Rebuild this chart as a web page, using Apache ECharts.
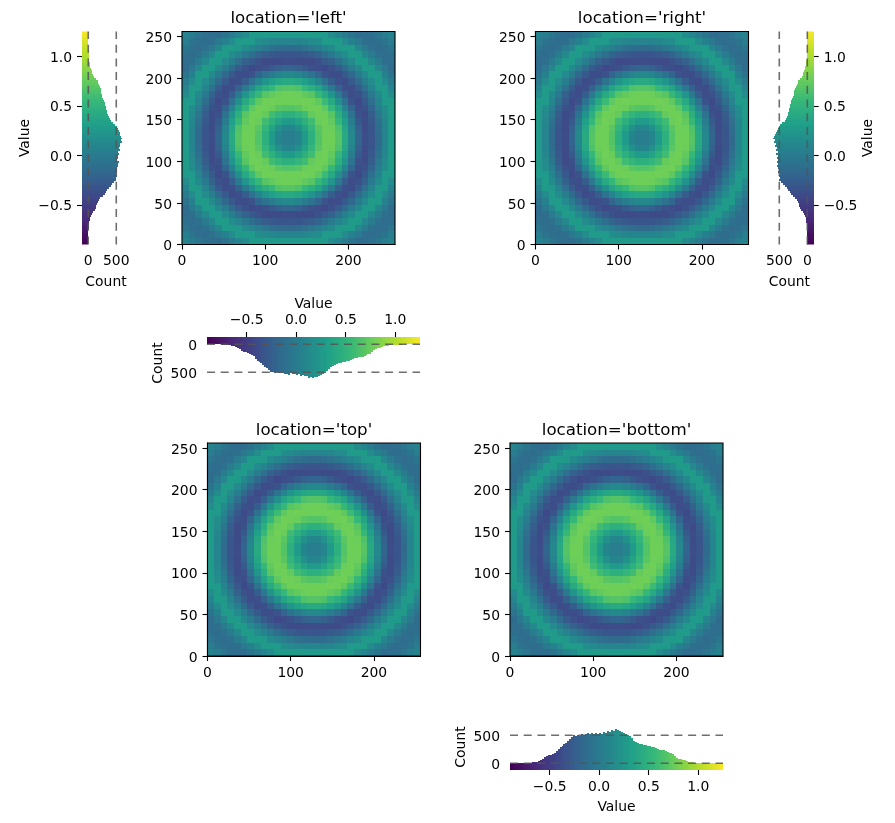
<!DOCTYPE html>
<html>
<head>
<meta charset="utf-8">
<title>Histogram colorbars</title>
<script src="https://cdn.jsdelivr.net/npm/echarts@6/dist/echarts.min.js"></script>
<style>html,body{margin:0;padding:0;background:#fff}#chart{width:895px;height:823px}</style>
</head>
<body>
<div id="chart"></div>
<script>
// Image values in hundredths, one row per 8-unit cell, top row first.
const imageRows = [
[6,2,-6,-12,-14,-15,-7,0,7,14,27,27,27,27,26,26,26,26,27,27,27,27,14,7,0,-7,-15,-14,-12,-6,2,6],
[2,-7,-12,-14,-12,-3,5,14,27,27,26,15,12,9,7,7,7,7,9,12,15,26,27,27,14,5,-3,-12,-14,-12,-7,2],
[-6,-12,-15,-10,-1,10,27,27,24,13,7,1,-5,-11,-14,-16,-16,-14,-11,-5,1,7,13,24,27,27,10,-1,-10,-15,-12,-6],
[-12,-14,-10,0,11,27,27,14,7,-2,-12,-21,-27,-30,-32,-33,-33,-32,-30,-27,-21,-12,-2,7,14,27,27,11,0,-10,-14,-12],
[-14,-12,-1,11,27,26,12,3,-11,-23,-30,-36,-40,-41,-40,-39,-39,-40,-41,-40,-36,-30,-23,-11,3,12,26,27,11,-1,-12,-14],
[-15,-3,10,27,26,11,0,-16,-28,-36,-42,-39,-36,-29,-23,-20,-20,-23,-29,-36,-39,-42,-36,-28,-16,0,11,26,27,10,-3,-15],
[-7,5,27,27,12,0,-18,-30,-39,-39,-34,-20,-9,0,7,11,11,7,0,-9,-20,-34,-39,-39,-30,-18,0,12,27,27,5,-7],
[0,14,27,14,3,-16,-30,-40,-37,-26,-9,7,21,31,37,40,40,37,31,21,7,-9,-26,-37,-40,-30,-16,3,14,27,14,0],
[7,27,24,7,-11,-28,-39,-37,-23,-3,17,35,45,53,64,67,67,64,53,45,35,17,-3,-23,-37,-39,-28,-11,7,24,27,7],
[14,27,13,-2,-23,-36,-39,-26,-3,21,40,53,68,72,76,77,77,76,72,68,53,40,21,-3,-26,-39,-36,-23,-2,13,27,14],
[27,26,7,-12,-30,-42,-34,-9,17,40,56,71,77,78,77,77,77,77,78,77,71,56,40,17,-9,-34,-42,-30,-12,7,26,27],
[27,15,1,-21,-36,-39,-20,7,35,53,71,78,77,75,69,66,66,69,75,77,78,71,53,35,7,-20,-39,-36,-21,1,15,27],
[27,12,-5,-27,-40,-36,-9,21,45,68,77,77,73,58,51,46,46,51,58,73,77,77,68,45,21,-9,-36,-40,-27,-5,12,27],
[27,9,-11,-30,-41,-29,0,31,53,72,78,75,58,46,35,26,26,35,46,58,75,78,72,53,31,0,-29,-41,-30,-11,9,27],
[26,7,-14,-32,-40,-23,7,37,64,76,77,69,51,35,18,8,8,18,35,51,69,77,76,64,37,7,-23,-40,-32,-14,7,26],
[26,7,-16,-33,-39,-20,11,40,67,77,77,66,46,26,8,2,2,8,26,46,66,77,77,67,40,11,-20,-39,-33,-16,7,26],
[26,7,-16,-33,-39,-20,11,40,67,77,77,66,46,26,8,2,2,8,26,46,66,77,77,67,40,11,-20,-39,-33,-16,7,26],
[26,7,-14,-32,-40,-23,7,37,64,76,77,69,51,35,18,8,8,18,35,51,69,77,76,64,37,7,-23,-40,-32,-14,7,26],
[27,9,-11,-30,-41,-29,0,31,53,72,78,75,58,46,35,26,26,35,46,58,75,78,72,53,31,0,-29,-41,-30,-11,9,27],
[27,12,-5,-27,-40,-36,-9,21,45,68,77,77,73,58,51,46,46,51,58,73,77,77,68,45,21,-9,-36,-40,-27,-5,12,27],
[27,15,1,-21,-36,-39,-20,7,35,53,71,78,77,75,69,66,66,69,75,77,78,71,53,35,7,-20,-39,-36,-21,1,15,27],
[27,26,7,-12,-30,-42,-34,-9,17,40,56,71,77,78,77,77,77,77,78,77,71,56,40,17,-9,-34,-42,-30,-12,7,26,27],
[14,27,13,-2,-23,-36,-39,-26,-3,21,40,53,68,72,76,77,77,76,72,68,53,40,21,-3,-26,-39,-36,-23,-2,13,27,14],
[7,27,24,7,-11,-28,-39,-37,-23,-3,17,35,45,53,64,67,67,64,53,45,35,17,-3,-23,-37,-39,-28,-11,7,24,27,7],
[0,14,27,14,3,-16,-30,-40,-37,-26,-9,7,21,31,37,40,40,37,31,21,7,-9,-26,-37,-40,-30,-16,3,14,27,14,0],
[-7,5,27,27,12,0,-18,-30,-39,-39,-34,-20,-9,0,7,11,11,7,0,-9,-20,-34,-39,-39,-30,-18,0,12,27,27,5,-7],
[-15,-3,10,27,26,11,0,-16,-28,-36,-42,-39,-36,-29,-23,-20,-20,-23,-29,-36,-39,-42,-36,-28,-16,0,11,26,27,10,-3,-15],
[-14,-12,-1,11,27,26,12,3,-11,-23,-30,-36,-40,-41,-40,-39,-39,-40,-41,-40,-36,-30,-23,-11,3,12,26,27,11,-1,-12,-14],
[-12,-14,-10,0,11,27,27,14,7,-2,-12,-21,-27,-30,-32,-33,-33,-32,-30,-27,-21,-12,-2,7,14,27,27,11,0,-10,-14,-12],
[-6,-12,-15,-10,-1,10,27,27,24,13,7,1,-5,-11,-14,-16,-16,-14,-11,-5,1,7,13,24,27,27,10,-1,-10,-15,-12,-6],
[2,-7,-12,-14,-12,-3,5,14,27,27,26,15,12,9,7,7,7,7,9,12,15,26,27,27,14,5,-3,-12,-14,-12,-7,2],
[6,2,-6,-12,-14,-15,-7,0,7,14,27,27,27,27,26,26,26,26,27,27,27,27,14,7,0,-7,-15,-14,-12,-6,2,6]
];
const imageCell = 8;
const imageExtent = [0, 256];

// Pixel counts per value bin, lowest bin first.
const binStart = -0.9;
const binWidth = 0.02;
const binCounts = [
0,0,1,1,2,2,3,4,5,7,
12,16,22,30,42,58,85,118,130,140,150,168,185,215,255,290,315,340,365,400,
430,465,500,490,505,495,515,505,520,535,525,545,520,535,525,550,530,565,545,570,
560,600,580,605,590,575,565,545,530,510,480,445,405,385,365,350,340,330,320,310,
305,295,285,270,250,240,235,230,225,205,190,175,165,130,100,85,70,60,50,38,
30,24,18,14,10,8,6,5,4,3,2,2,1,1,1,0,0,0
];

const valueRange = [-0.9, 1.25];
const valueTicks = [-0.5, 0, 0.5, 1];
const countTicks = [0, 500];
const referenceCounts = [0, 500];
const imageXTicks = [0, 100, 200];
const imageYTicks = [0, 50, 100, 150, 200, 250];
const viridis = ['#440154','#482878','#3e4989','#31688e','#26828e','#1f9e89','#35b779','#6ece58','#b5de2b','#fde725'];

const images = [
  { title: "location='left'",   left: 182,   top: 31.5, size: 213 },
  { title: "location='right'",  left: 535.5, top: 31.5, size: 213 },
  { title: "location='top'",    left: 207.5, top: 443,  size: 213 },
  { title: "location='bottom'", left: 510,   top: 443,  size: 213 }
];

const histograms = [
  { side: 'left',   box: { left: 82,  top: 31.5, width: 48, height: 213 },  count: [-112, 745] },
  { side: 'right',  box: { left: 765, top: 31.5, width: 48.7, height: 213 }, count: [-114, 755] },
  { side: 'top',    box: { left: 207, top: 337,  width: 213, height: 52 },  count: [-130, 798] },
  { side: 'bottom', box: { left: 510, top: 724,  width: 213, height: 46 },  count: [-120, 702] }
];

const font = 'DejaVu Sans';
const tickFont = { fontFamily: font, fontSize: 13.9, color: '#000' };
const nameFont = { fontFamily: font, fontSize: 13.9, color: '#000' };
const formatValue = v => v.toFixed(1).replace('-', '\u2212');
const formatCount = v => String(v);
const tickStyle = { color: '#000', width: 1.1 };

// Labels beside an upright axis sit a little under their tick.
function tickLabel(position, ticks, format) {
  const upright = position === 'left' || position === 'right';
  return Object.assign({
    margin: 10,
    customValues: ticks,
    formatter: upright ? v => '{low|' + format(v) + '}' : format,
    rich: { low: Object.assign({ padding: [4, 0, 0, 0] }, tickFont) }
  }, tickFont);
}

const grids = [], xAxes = [], yAxes = [], series = [], titles = [];

function imageAxis(position, ticks) {
  return {
    type: 'value', position, min: imageExtent[0], max: imageExtent[1],
    splitLine: { show: false },
    axisLine: { show: true, onZero: false, lineStyle: tickStyle },
    axisTick: { show: true, length: 5, lineStyle: tickStyle, customValues: ticks },
    axisLabel: tickLabel(position, ticks, formatCount)
  };
}

// One block per image cell, placed through the axes of its panel.
const imageData = [];
imageRows.forEach((row, r) => row.forEach((v, c) => {
  imageData.push([c * imageCell, (imageRows.length - 1 - r) * imageCell, v / 100]);
}));

function renderImageCell(params, api) {
  const x = api.value(0), y = api.value(1);
  const a = api.coord([x, y]), b = api.coord([x + imageCell, y + imageCell]);
  const x0 = Math.round(a[0]), x1 = Math.round(b[0]);
  const y0 = Math.round(b[1]), y1 = Math.round(a[1]);
  return { type: 'rect', shape: { x: x0, y: y0, width: x1 - x0, height: y1 - y0 }, style: { fill: api.visual('color') } };
}

images.forEach((im, i) => {
  grids.push({ left: im.left, top: im.top, width: im.size, height: im.size, show: true, z: 10,
    backgroundColor: 'transparent', borderColor: '#000', borderWidth: 1.1 });
  xAxes.push(Object.assign(imageAxis('bottom', imageXTicks), { gridIndex: i }));
  yAxes.push(Object.assign(imageAxis('left', imageYTicks), { gridIndex: i }));
  titles.push({ text: im.title, left: im.left + im.size / 2 - 5, top: im.top - 26, textAlign: 'center',
    textStyle: { fontFamily: font, fontSize: 16.67, fontWeight: 'normal', color: '#000' } });
  series.push({ type: 'custom', coordinateSystem: 'cartesian2d', xAxisIndex: i, yAxisIndex: i,
    data: imageData, encode: { x: 0, y: 1 }, renderItem: renderImageCell, silent: true, animation: false, progressive: 0 });
});

const histData = binCounts.map((n, k) => [binStart + k * binWidth, n]);

function valueAxisFor(h, gridIndex) {
  const nameGap = { left: 50, right: 48, top: 26, bottom: 30 }[h.side];
  return {
    type: 'value', gridIndex, position: h.side, min: valueRange[0], max: valueRange[1],
    name: 'Value', nameLocation: 'middle', nameGap, nameTextStyle: nameFont,
    nameRotate: (h.side === 'left' || h.side === 'right') ? 90 : 0,
    splitLine: { show: false },
    axisLine: { show: true, onZero: false, lineStyle: { color: 'rgba(0,0,0,0)', width: 1 } },
    axisTick: { show: true, length: 5, lineStyle: tickStyle, customValues: valueTicks },
    axisLabel: tickLabel(h.side, valueTicks, formatValue)
  };
}

function countAxisFor(h, gridIndex) {
  const position = { left: 'bottom', right: 'bottom', top: 'left', bottom: 'left' }[h.side];
  const nameGap = (position === 'bottom') ? 31 : 42;
  return {
    type: 'value', gridIndex, position, min: h.count[0], max: h.count[1],
    inverse: h.side === 'right' || h.side === 'top',
    name: 'Count', nameLocation: 'middle', nameGap, nameTextStyle: nameFont,
    nameRotate: position === 'left' ? 90 : 0,
    splitLine: { show: false }, axisLine: { show: false }, axisTick: { show: false },
    axisLabel: tickLabel(position, countTicks, formatCount)
  };
}

histograms.forEach((h, j) => {
  const g = images.length + j;
  const upright = h.side === 'left' || h.side === 'right';
  grids.push(h.box);
  if (upright) {
    xAxes.push(countAxisFor(h, g));
    yAxes.push(valueAxisFor(h, g));
  } else {
    xAxes.push(valueAxisFor(h, g));
    yAxes.push(countAxisFor(h, g));
  }
  // A bar runs from the panel edge out to the bin's count, coloured by its value.
  series.push({
    type: 'custom', coordinateSystem: 'cartesian2d', xAxisIndex: g, yAxisIndex: g, clip: true,
    data: histData, encode: upright ? { x: 1, y: 0 } : { x: 0, y: 1 }, silent: true, animation: false,
    renderItem: (params, api) => {
      const v = api.value(0), n = api.value(1);
      const a = upright ? api.coord([h.count[0], v]) : api.coord([v, h.count[0]]);
      const b = upright ? api.coord([n, v + binWidth]) : api.coord([v + binWidth, n]);
      const x0 = Math.round(Math.min(a[0], b[0])), x1 = Math.round(Math.max(a[0], b[0]));
      const y0 = Math.round(Math.min(a[1], b[1])), y1 = Math.round(Math.max(a[1], b[1]));
      return { type: 'rect', shape: { x: x0, y: y0, width: x1 - x0, height: y1 - y0 }, style: { fill: api.visual('color') } };
    }
  });
});

// Dashed reference lines at fixed counts, over each histogram.
histograms.forEach((h, j) => {
  const g = images.length + j;
  const upright = h.side === 'left' || h.side === 'right';
  referenceCounts.forEach(c => {
    series.push({
      type: 'line', xAxisIndex: g, yAxisIndex: g, z: 5, silent: true, animation: false,
      showSymbol: false, symbol: 'none',
      lineStyle: { color: '#555', opacity: 0.85, width: 1.6, type: [8, 5.7] },
      data: valueRange.map(v => upright ? [c, v] : [v, c])
    });
  });
});

const chart = echarts.init(document.getElementById('chart'), null, { renderer: 'canvas' });
chart.setOption({
  backgroundColor: '#fff',
  animation: false,
  title: titles,
  grid: grids,
  xAxis: xAxes,
  yAxis: yAxes,
  visualMap: [
    { type: 'continuous', show: false, min: valueRange[0], max: valueRange[1], dimension: 2,
      seriesIndex: [0, 1, 2, 3], inRange: { color: viridis } },
    { type: 'continuous', show: false, min: valueRange[0], max: valueRange[1], dimension: 0,
      seriesIndex: [4, 5, 6, 7], inRange: { color: viridis } }
  ],
  series
});
</script>
</body>
</html>
